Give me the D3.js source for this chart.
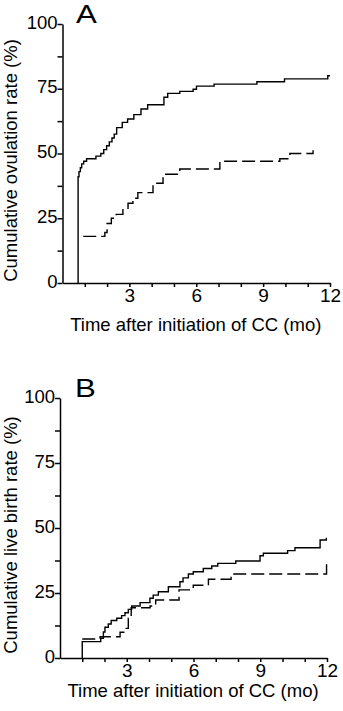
<!DOCTYPE html>
<html>
<head>
<meta charset="utf-8">
<script src="https://cdn.jsdelivr.net/npm/d3@7/dist/d3.min.js"></script>
<style>
  html, body { margin: 0; padding: 0; background: #fff; }
  svg { display: block; }
  text { font-family: "Liberation Sans", Arial, Helvetica, sans-serif; fill: #000; }
</style>
</head>
<body>
<svg id="chart" width="343" height="711"></svg>
<script>
// Kaplan–Meier style cumulative curves: [month, cumulative %]
const ovulationSolid = [
  [0.70, 0], [0.70, 41], [0.74, 43], [0.80, 44.5], [0.86, 46], [0.95, 47], [1.08, 48],
  [1.50, 49], [1.72, 50], [1.85, 51.5], [1.98, 53], [2.10, 54.5], [2.22, 56], [2.32, 57.5],
  [2.43, 60], [2.68, 62], [2.92, 63.3], [3.20, 65], [3.52, 67.2], [3.82, 68.8],
  [4.55, 71.7], [4.72, 73.2], [5.26, 74], [5.86, 74.8], [6.01, 76], [6.80, 76.8],
  [8.72, 77.7], [9.96, 78.8], [11.90, 80], [12.0, 80]
];
const ovulationDashed = [
  [0.93, 18], [1.90, 19.5], [2.00, 23], [2.19, 25], [2.41, 26.5], [2.71, 28.8],
  [2.94, 30.8], [3.16, 32.7], [3.38, 34.9], [4.06, 38.5], [4.51, 42], [5.26, 44],
  [7.06, 47], [9.75, 48], [10.20, 50], [11.24, 50], [11.24, 51.3]
];
const birthSolid = [
  [1.00, 0], [1.00, 6.3], [1.83, 7.6], [1.95, 10], [2.02, 11.8], [2.17, 13.1], [2.30, 14.4],
  [2.55, 15.3], [2.77, 16.3], [2.92, 17.4], [3.07, 18.7], [3.22, 20], [3.60, 21.3],
  [4.04, 23], [4.19, 24.2], [4.42, 25.5], [4.87, 27.4], [5.39, 29.3], [5.53, 30.8],
  [5.77, 32.3], [5.99, 33.2], [6.44, 34.4], [6.82, 35.4], [7.09, 36.4], [7.90, 37.3],
  [8.99, 39.3], [9.14, 40.3], [10.23, 41.3], [10.56, 42.4], [11.69, 45.4], [11.97, 46], [12.0, 46]
];
const birthDashed = [
  [1.00, 7.3], [1.80, 8.2], [2.70, 9.9], [2.92, 11.4], [3.07, 15.3], [3.20, 19.3],
  [4.05, 20], [4.30, 22.3], [5.35, 26.2], [5.99, 28], [6.67, 30.3], [7.69, 32.3],
  [11.98, 32.3], [11.98, 37]
];

const xTicks = [1, 2, 3, 4, 5, 6, 7, 8, 9, 10, 11, 12];
const xTickLabels = [3, 6, 9, 12];
const yTicks = [0, 12.5, 25, 37.5, 50, 62.5, 75, 87.5, 100];
const yTickLabels = [0, 25, 50, 75, 100];

const panels = [
  { letter: "A", yTitle: "Cumulative ovulation rate (%)", solid: ovulationSolid, dashed: ovulationDashed,
    x0: 62.5, x1: 330, y0: 283, y1: 24, letterX: 76, letterY: 23, yTitleY: 160.5, xTitleY: 331 },
  { letter: "B", yTitle: "Cumulative live birth rate (%)", solid: birthSolid, dashed: birthDashed,
    x0: 60, x1: 327, y0: 658, y1: 398, letterX: 75, letterY: 397, yTitleY: 535, xTitleY: 697 }
];
const xTitle = "Time after initiation of CC (mo)";

const svg = d3.select("#chart");
svg.append("rect").attr("width", 343).attr("height", 711).attr("fill", "#fff");

panels.forEach(p => {
  const x = d3.scaleLinear().domain([0, 12]).range([p.x0, p.x1]);
  const y = d3.scaleLinear().domain([0, 100]).range([p.y0, p.y1]);
  const g = svg.append("g");

  // x axis: monthly ticks, labels every 3 months
  const xa = g.append("g").attr("transform", `translate(0,${p.y0})`)
    .call(d3.axisBottom(x).tickValues(xTicks).tickSize(4).tickSizeOuter(0).tickPadding(2)
      .tickFormat(d => xTickLabels.includes(d) ? d : ""));
  xa.selectAll("text").attr("font-size", 19).attr("font-family", null);

  // y axis: minor ticks at 12.5 %, labels every 25 %
  const ya = g.append("g").attr("transform", `translate(${p.x0},0)`)
    .call(d3.axisLeft(y).tickValues(yTicks).tickSize(5).tickSizeOuter(0).tickPadding(0)
      .tickFormat(d => yTickLabels.includes(d) ? d : ""));
  ya.selectAll("text").attr("font-size", 18.5).attr("font-family", null).attr("dy", "0.22em");

  [xa, ya].forEach(a => {
    a.selectAll("path, line").attr("stroke", "#000").attr("stroke-width", 1.5);
  });

  const line = d3.line().x(d => x(d[0])).y(d => y(d[1])).curve(d3.curveStepAfter);

  g.append("path").datum(p.dashed).attr("d", line)
    .attr("fill", "none").attr("stroke", "#000").attr("stroke-width", 1.4)
    .attr("stroke-dasharray", "13,5");
  g.append("path").datum(p.solid).attr("d", line)
    .attr("fill", "none").attr("stroke", "#000").attr("stroke-width", 1.4);

  // panel letter
  g.append("text").attr("x", p.letterX).attr("y", p.letterY)
    .attr("font-size", 26).attr("transform", `translate(${p.letterX},0) scale(1.2,1) translate(${-p.letterX},0)`)
    .text(p.letter);

  // axis titles
  g.append("text").attr("x", (p.x0 + p.x1) / 2 - 0.5).attr("y", p.xTitleY)
    .attr("text-anchor", "middle").attr("font-size", 18.5).text(xTitle);
  g.append("text").attr("transform", `translate(17,${p.yTitleY}) rotate(-90)`)
    .attr("text-anchor", "middle").attr("font-size", 18.5).text(p.yTitle);
});
</script>
</body>
</html>
